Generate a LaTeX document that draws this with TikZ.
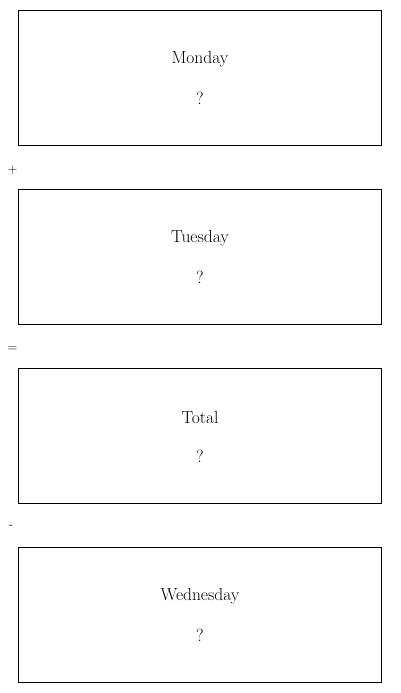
\documentclass[tikz,border=0pt]{standalone}
\begin{document}
\begin{tikzpicture}[x=1pt,y=-1pt,
  daybox/.style={draw=black,line width=0.8pt,minimum width=363pt,minimum height=135pt,inner sep=0pt},
  daytext/.style={font=\fontsize{17.5}{21}\selectfont,inner sep=0pt},
  optext/.style={font=\fontsize{13}{15}\selectfont,inner sep=0pt}]
\useasboundingbox (0,0) rectangle (400,693);
\node[daybox] (b1) at (200,77.5) {};
\node[daybox] (b2) at (200,256.5) {};
\node[daybox] (b3) at (200,435.5) {};
\node[daybox] (b4) at (200,614.5) {};
\node[daytext] (t1) at (200,59.5) {Monday};
\node[daytext] (q1) at (200,98.5) {?};
\node[daytext] (t2) at (200,238.5) {Tuesday};
\node[daytext] (q2) at (200,277.5) {?};
\node[daytext] (t3) at (200,417.5) {Total};
\node[daytext] (q3) at (200,456.5) {?};
\node[daytext] (t4) at (200,596.5) {Wednesday};
\node[daytext] (q4) at (200,635.5) {?};
\node[optext] (o1) at (12.5,170) {+};
\node[optext] (o2) at (12.5,349) {=};
\node[optext] (o3) at (11,527) {-};
\end{tikzpicture}
\end{document}
